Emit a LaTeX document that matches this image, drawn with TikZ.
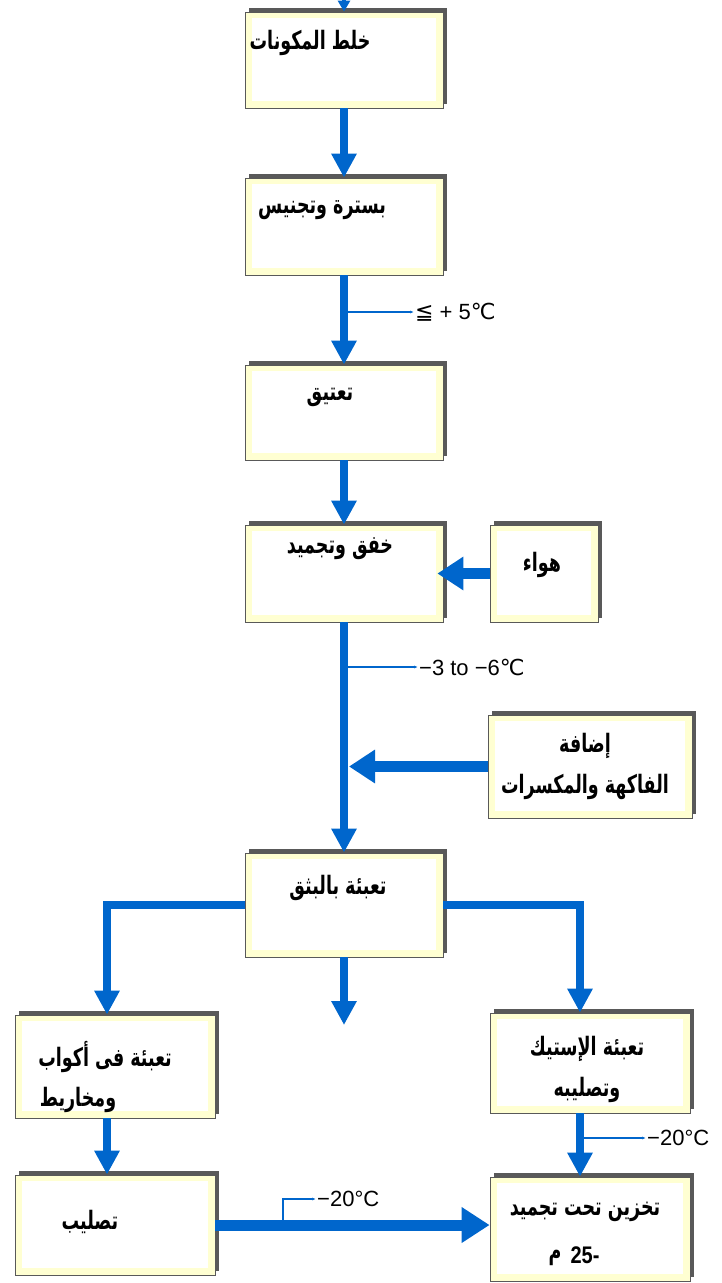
\documentclass[tikz,border=0pt]{standalone}
\usepackage{fontspec}
\usepackage{graphicx}
\setmainfont{Liberation Sans}
\newfontfamily\arabicfont[Script=Arabic]{DejaVu Sans}
\newfontfamily\symfont{DejaVu Sans}
\TeXXeTstate=1
\usetikzlibrary{arrows.meta,shadows}
\definecolor{flowblue}{RGB}{0,102,204}
\definecolor{boxyellow}{RGB}{255,255,210}
\newcommand\artxt[1]{\scalebox{1}[1.45]{\beginR #1\endR}}
\tikzset{
  pbox/.style={draw=gray!70!black, line width=0.8pt, fill=boxyellow,
    inner sep=0pt, anchor=center,
    general shadow={fill=gray!70!black, shadow xshift=4pt, shadow yshift=4pt},
    path picture={\fill[white] ([shift={(7pt,-6pt)}]path picture bounding box.north west)
      rectangle ([shift={(-7pt,7pt)}]path picture bounding box.south east);}},
  atext/.style={font=\arabicfont\bfseries\fontsize{17.5}{41}\selectfont, inner sep=0pt, align=center},
  lbl/.style={font=\fontsize{22}{24}\selectfont, inner sep=1pt, anchor=west},
  flow/.style={draw=flowblue, line width=8pt, -{Triangle[width=24pt,length=24pt]}},
  sideflow/.style={draw=flowblue, line width=11pt, -{Triangle[width=32pt,length=26pt]}},
  bigflow/.style={draw=flowblue, line width=11pt, -{Triangle[width=34pt,length=28pt]}},
  tap/.style={draw=flowblue, line width=1.2pt, -{Latex[length=4pt,width=3pt]}}
}
\begin{document}
\begin{tikzpicture}[x=1pt,y=-1pt]
\useasboundingbox[fill=white] (0,0) rectangle (721,1283);
% boxes
\node[pbox, minimum width=198pt, minimum height=96pt] (b1) at (344,60) {};
\node[pbox, minimum width=198pt, minimum height=97pt] (b2) at (344,226.5) {};
\node[pbox, minimum width=198pt, minimum height=95pt] (b3) at (344,412.5) {};
\node[pbox, minimum width=198pt, minimum height=97pt] (b4) at (344,573.5) {};
\node[pbox, minimum width=108pt, minimum height=97pt] (air) at (544,573.5) {};
\node[pbox, minimum width=204pt, minimum height=103pt] (fruit) at (590,766.5) {};
\node[pbox, minimum width=198pt, minimum height=104pt] (b5) at (344,905) {};
\node[pbox, minimum width=200pt, minimum height=103pt] (b6) at (115,1066.5) {};
\node[pbox, minimum width=200pt, minimum height=100pt] (b7) at (590,1063) {};
\node[pbox, minimum width=200pt, minimum height=100pt] (b8) at (115,1225) {};
\node[pbox, minimum width=200pt, minimum height=104pt] (b9) at (590,1229) {};
% texts
\node[atext] (t1) at (310,43) {\artxt{خلط المكونات}};
\node[atext] (t2) at (322,210) {\artxt{بسترة وتجنيس}};
\node[atext] (t3) at (330,397) {\artxt{تعتيق}};
\node[atext] (t4) at (340,549) {\artxt{خفق وتجميد}};
\node[atext] (t5) at (542,565) {\artxt{هواء}};
\node[atext] (t6) at (585,766) {\artxt{إضافة}\\ \artxt{الفاكهة والمكسرات}};
\node[atext] (t7) at (338,888) {\artxt{تعبئة بالبثق}};
\node[atext] (t8) at (105,1057) {\artxt{تعبئة فى أكواب}};
\node[atext] (t9) at (78,1100) {\artxt{ومخاريط}};
\node[atext] (t10) at (587,1069) {\artxt{تعبئة الإستيك}\\ \artxt{وتصليبه}};
\node[atext] (t11) at (90,1222) {\artxt{تصليب}};
\node[atext] (t12) at (585,1212) {\artxt{تخزين تحت تجميد}};
\node[atext] (t13a) at (555,1258) {\artxt{م}};
\node[atext, font=\bfseries\fontsize{20}{24}\selectfont] (t13b) at (585,1255) {\scalebox{1}[1.2]{25-}};
% labels
\node[lbl] (l1) at (414,312) {{\symfont ≦} + 5{\symfont ℃}};
\node[lbl] (l2) at (418,667) {−3 to −6{\symfont ℃}};
\node[lbl] (l3) at (646,1138) {−20°C};
\node[lbl] (l4) at (316,1199) {−20°C};
% connectors
\coordinate (top) at (344,-3);
\draw[draw=flowblue, line width=4pt, -{Triangle[width=12pt,length=11pt]}] (top) -- (b1.north);
\draw[flow] (b1.south) -- (b2.north);
\draw[flow] (b2.south) -- (b3.north);
\draw[flow] (b3.south) -- (b4.north);
\draw[sideflow] (air.west) -- ([xshift=-6pt]b4.east);
\draw[flow] (b4.south) -- (b5.north);
\draw[sideflow] (fruit.west) -- ([xshift=5pt]fruit.west -| b4.south);
\draw[flow] (b5.west) -| ([xshift=-8pt]b6.north);
\draw[flow] (b5.east) -| ([xshift=-10pt]b7.north);
\coordinate (end) at (344,1025);
\draw[flow] (b5.south) -- (end);
\draw[flow] ([xshift=-8pt]b6.south) -- ([xshift=-8pt]b8.north);
\draw[flow] ([xshift=-10pt]b7.south) -- ([xshift=-10pt]b9.north);
\draw[bigflow] (b8.east) -- (b8.east -| b9.west);
% temperature taps
\draw[tap] (l1.west -| b2.south) -- (l1.west);
\draw[tap] (l2.west -| b4.south) -- (l2.west);
\draw[tap] ([xshift=-10pt]l3.west -| b7.south) -- (l3.west);
\coordinate (k) at (283,1225);
\draw[tap] (k) |- (l4.west);
\end{tikzpicture}
\end{document}
